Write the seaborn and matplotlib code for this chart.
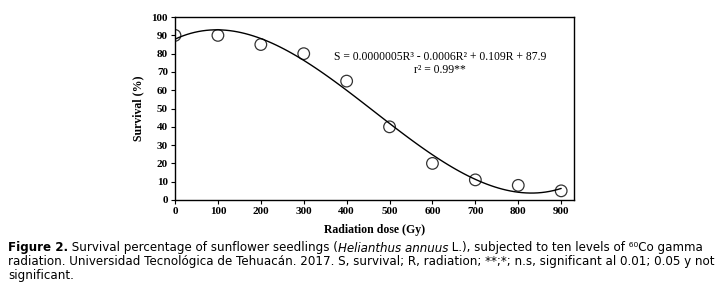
import numpy as np
import pandas as pd
import matplotlib
matplotlib.use("Agg")
import matplotlib.pyplot as plt
import seaborn as sns

# data
dose = [0, 100, 200, 300, 400, 500, 600, 700, 800, 900]
survival = [90, 90, 85, 80, 65, 40, 20, 11, 8, 5]
x_ticks = [0, 100, 200, 300, 400, 500, 600, 700, 800, 900]
y_ticks = [0, 10, 20, 30, 40, 50, 60, 70, 80, 90, 100]

df = pd.DataFrame({"dose": dose, "survival": survival})

sns.set_style("ticks")
serif = ["Liberation Serif", "DejaVu Serif"]
sans = ["DejaVu Sans", "Liberation Sans"]
plt.rcParams["font.family"] = serif
plt.rcParams["text.color"] = "black"
plt.rcParams["axes.labelcolor"] = "black"
plt.rcParams["xtick.color"] = "black"
plt.rcParams["ytick.color"] = "black"

fig = plt.figure(figsize=(7.19, 2.84), dpi=100)
ax = fig.add_axes([0.2434, 0.2958, 0.555, 0.644])

# cubic trend line + open circles
sns.regplot(data=df, x="dose", y="survival", order=3, ci=None, ax=ax,
            color="black", marker="o",
            scatter_kws={"facecolors": "none", "edgecolors": "black", "s": 70, "linewidths": 0.9},
            line_kws={"color": "black", "lw": 1.0})

ax.set_xlim(0, 930)
ax.set_ylim(0, 100)
ax.set_xticks(x_ticks)
ax.set_yticks(y_ticks)
for lab in ax.get_xticklabels() + ax.get_yticklabels():
    lab.set_fontweight("bold")
    lab.set_fontsize(8)
ax.tick_params(direction="out", length=3, width=0.8, pad=2)
for s in ax.spines.values():
    s.set_visible(True)
    s.set_linewidth(1.0)
    s.set_color("black")

ax.set_xlabel("Radiation dose (Gy)", fontsize=8.5, fontweight="bold", labelpad=6)
ax.set_ylabel("Survival (%)", fontsize=8.5, fontweight="bold", labelpad=5)

ax.text(0.665, 0.745, "S = 0.0000005R³ - 0.0006R² + 0.109R + 87.9\nr² = 0.99**",
        transform=ax.transAxes, ha="center", va="center", fontsize=8.4,
        linespacing=1.15)

# caption, built piece by piece so the italic name and bold label sit on one line
cap_size = 8.55


def caption_line(y_px, pieces):
    t = None
    for txt, style, weight in pieces:
        if t is None:
            t = fig.text(8 / 719, 1 - y_px / 284, txt, fontsize=cap_size, family=sans,
                         style=style, fontweight=weight, va="center", ha="left")
        else:
            t = ax.annotate(txt, xy=(1, 0), xycoords=t, fontsize=cap_size, family=sans,
                            style=style, fontweight=weight, va="bottom", ha="left",
                            annotation_clip=False)


caption_line(248, [("Figure 2.", "normal", "bold"),
                   (" Survival percentage of sunflower seedlings (", "normal", "normal"),
                   ("Helianthus annuus", "italic", "normal"),
                   (" L.), subjected to ten levels of ⁶⁰Co gamma", "normal", "normal")])
caption_line(262, [("radiation. Universidad Tecnológica de Tehuacán. 2017. S, survival; R, radiation; "
                    "**;*; n.s, significant al 0.01; 0.05 y not", "normal", "normal")])
caption_line(276, [("significant.", "normal", "normal")])

plt.savefig("out.png", dpi=100)
